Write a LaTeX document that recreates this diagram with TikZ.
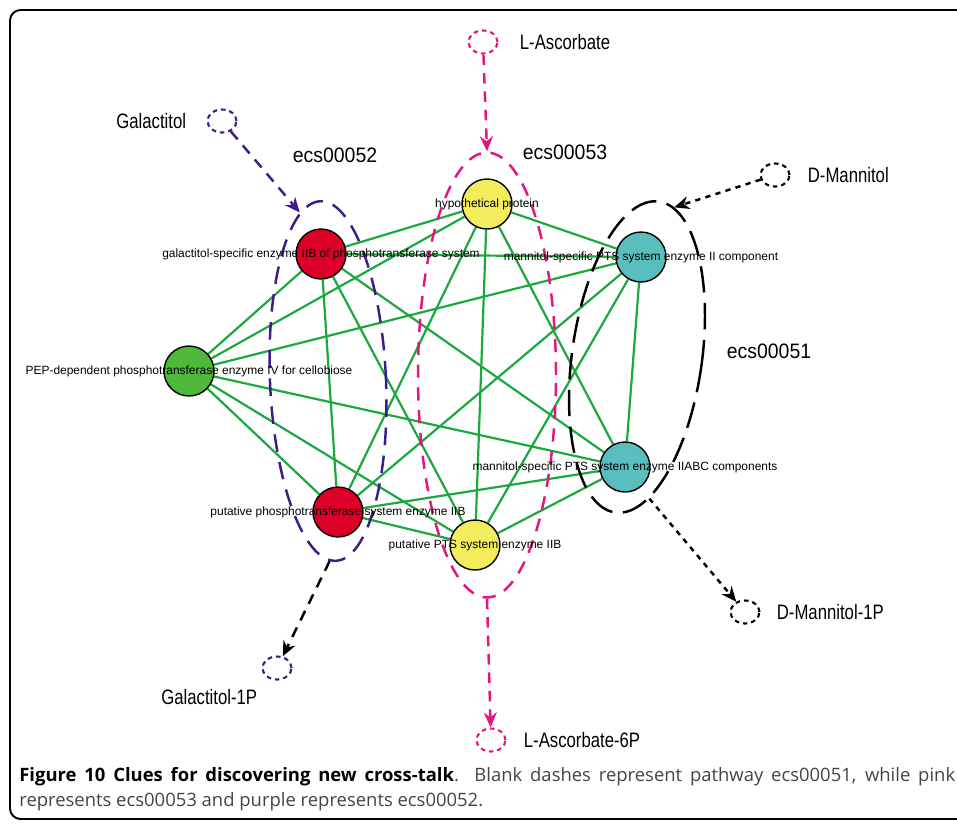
\documentclass[tikz,border=0pt]{standalone}
\usepackage{fontspec}
\setmainfont{Liberation Sans}
\newfontfamily\narrowsans[FakeStretch=0.8]{Liberation Sans}
\newfontfamily\pwaysans[FakeStretch=0.93]{Liberation Sans}
\newfontfamily\capsans{Open Sans}
\usetikzlibrary{positioning,shapes.geometric,arrows.meta,backgrounds}
\definecolor{edgegreen}{HTML}{1BA83C}
\definecolor{galpurple}{HTML}{3D1C8A}
\definecolor{ascpink}{HTML}{E5147F}
\definecolor{enzred}{HTML}{DC0028}
\definecolor{enzyellow}{HTML}{F3EC5C}
\definecolor{enzteal}{HTML}{5BBEBE}
\definecolor{enzgreen}{HTML}{4DB83A}
\definecolor{capgray}{HTML}{444444}

\begin{document}
\begin{tikzpicture}[x=0.02cm, y=-0.02cm, line join=round, >={Stealth[length=3mm,width=2.6mm]},
	enz/.style={circle, draw, fill=#1, line width=0.8pt, minimum size=1cm, inner sep=0pt},
	tag/.style={font=\fontsize{6.8}{8}\selectfont, inner sep=0pt},
	link/.style={edgegreen, line width=1.25pt},
	met/.style={ellipse, draw=#1, line width=1.2pt, dash pattern=on 2.6pt off 2.2pt, minimum width=0.58cm, minimum height=0.46cm, inner sep=0pt},
	mtxt/.style={font=\narrowsans\fontsize{11.9}{14}\selectfont, inner sep=0pt},
	ptxt/.style={font=\pwaysans\fontsize{11.9}{14}\selectfont, inner sep=0pt},
	pway/.style={ellipse, draw=#1, line width=1.4pt, inner sep=0pt},
	flow/.style={->, line width=1.4pt, dash pattern=on 6pt off 4.5pt},
	dotflow/.style={->, line width=1.4pt, dash pattern=on 3pt off 3pt}]
	\useasboundingbox (0,0) rectangle (957,823);
	\begin{scope}
		\clip (0,0) rectangle (957,823);
		\draw[line width=1.1pt, rounded corners=6pt] (10,10) rectangle (1000,819);
	\end{scope}
	% pathways
	\node[pway=galpurple, dash pattern=on 10pt off 6pt, minimum width=2.32cm, minimum height=7.2cm, rotate=2.5] (p52) at (328,381) {};
	\node[pway=ascpink, dash pattern=on 7.5pt off 5.5pt, minimum width=2.76cm, minimum height=8.9cm] (p53) at (487,375) {};
	\node[pway=black, dash pattern=on 15pt off 6pt, minimum width=2.6cm, minimum height=6.28cm, rotate=-8] (p51) at (637,357) {};
	\node[ptxt] at (335,155) {ecs00052};
	\node[ptxt] at (565,152) {ecs00053};
	\node[ptxt] at (769,351) {ecs00051};
	% enzymes
	\node[enz=enzyellow, label={[tag]center:hypothetical protein}] (hyp) at (487,204) {};
	\node[enz=enzred, label={[tag]center:galactitol-specific enzyme IIB of phosphotransferase system}] (galB) at (321,254) {};
	\node[enz=enzteal, label={[tag]center:mannitol-specific PTS system enzyme II component}] (mtlII) at (641,257) {};
	\node[enz=enzgreen, label={[tag]center:PEP-dependent phosphotransferase enzyme IV for cellobiose}] (pep) at (189,371) {};
	\node[enz=enzteal, label={[tag]center:mannitol-specific PTS system enzyme IIABC components}] (mtlABC) at (625,467) {};
	\node[enz=enzred, label={[tag]center:putative phosphotransferase system enzyme IIB}] (putPT) at (338,512) {};
	\node[enz=enzyellow, label={[tag]center:putative PTS system enzyme IIB}] (putPTS) at (475,545) {};
	\begin{pgfonlayer}{background}
		\foreach \a/\b in {hyp/galB,hyp/mtlII,hyp/pep,hyp/mtlABC,hyp/putPT,hyp/putPTS,
			galB/mtlII,galB/pep,galB/mtlABC,galB/putPT,galB/putPTS,
			mtlII/pep,mtlII/mtlABC,mtlII/putPT,mtlII/putPTS,
			pep/mtlABC,pep/putPT,pep/putPTS,mtlABC/putPT,mtlABC/putPTS,putPT/putPTS}
			\draw[link] (\a) -- (\b);
	\end{pgfonlayer}
	% metabolites
	\node[met=galpurple] (galt) at (222,121) {};
	\node[mtxt, left=0.4cm of galt] {Galactitol};
	\node[met=ascpink] (asc) at (483,42) {};
	\node[mtxt, right=0.42cm of asc] {L-Ascorbate};
	\node[met=black] (mtl) at (775,175) {};
	\node[mtxt, right=0.34cm of mtl] {D-Mannitol};
	\node[met=black] (mtlP) at (745,612) {};
	\node[mtxt, right=0.32cm of mtlP] {D-Mannitol-1P};
	\node[met=galpurple] (galtP) at (277,668) {};
	\node[mtxt, below left=0.25cm and 0.17cm of galtP] {Galactitol-1P};
	\node[met=ascpink] (ascP) at (491,740) {};
	\node[mtxt, right=0.34cm of ascP] {L-Ascorbate-6P};
	% reactions
	\draw[flow, galpurple] (galt) -- (p52.97);
	\draw[flow, ascpink] (asc) -- (p53.north);
	\draw[dotflow] (mtl) -- (p51.84);
	\draw[dotflow] (p51.283) -- (mtlP);
	\draw[flow] (p52.268) -- (galtP);
	\draw[flow, ascpink] (p53.south) -- (ascP);
	% caption
	\node[anchor=north west, inner sep=0pt, align=left, font=\capsans\fontsize{10.5}{14.2}\selectfont, text=capgray] at (19,767)
		{\makebox[18.72cm][s]{\textbf{\color{black}Figure 10 Clues for discovering new cross-talk}. Blank dashes represent pathway ecs00051, while pink}\\
		represents ecs00053 and purple represents ecs00052.};
\end{tikzpicture}
\end{document}
